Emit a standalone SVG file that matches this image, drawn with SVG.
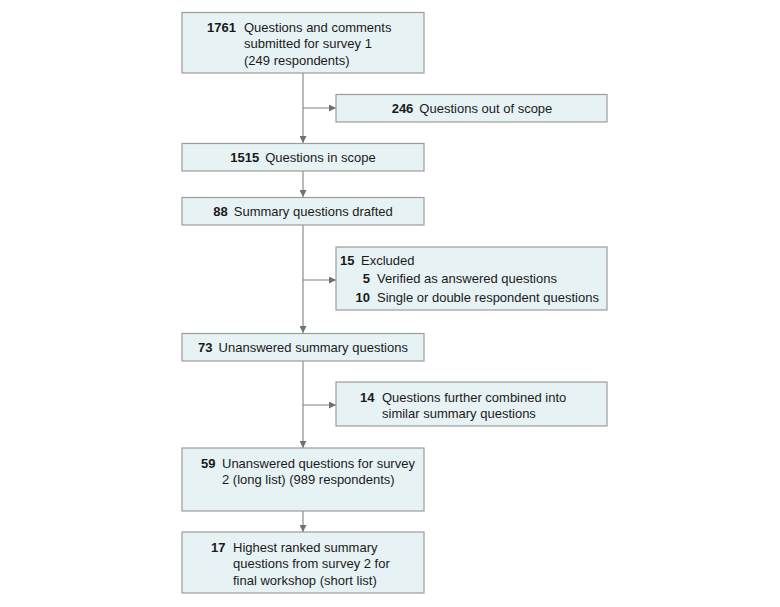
<svg xmlns="http://www.w3.org/2000/svg" width="780" height="607" viewBox="0 0 780 607">
<style>
.box{fill:#e7f2f4;stroke:#9c9c9c;stroke-width:1.2}
.t{font-family:"Liberation Sans",Arial,sans-serif;font-size:13px;fill:#1a1a1a}
.n{font-weight:bold}
.ln{stroke:#808080;stroke-width:1.1;fill:none}
</style>
<defs>
<marker id="ah" viewBox="0 0 10 10" refX="10" refY="5" markerWidth="7" markerHeight="7" markerUnits="userSpaceOnUse" orient="auto">
<path d="M0,0 L10,5 L0,10 Z" fill="#707070"/>
</marker>
</defs>
<rect width="780" height="607" fill="#ffffff"/>
<g id="connectors">
<line class="ln" x1="303" y1="73" x2="303" y2="143" marker-end="url(#ah)"/>
<line class="ln" x1="303" y1="108" x2="336" y2="108" marker-end="url(#ah)"/>
<line class="ln" x1="303" y1="171" x2="303" y2="197" marker-end="url(#ah)"/>
<line class="ln" x1="303" y1="225" x2="303" y2="333" marker-end="url(#ah)"/>
<line class="ln" x1="303" y1="280" x2="336" y2="280" marker-end="url(#ah)"/>
<line class="ln" x1="303" y1="361" x2="303" y2="448" marker-end="url(#ah)"/>
<line class="ln" x1="303" y1="405" x2="336" y2="405" marker-end="url(#ah)"/>
<line class="ln" x1="303" y1="511" x2="303" y2="532" marker-end="url(#ah)"/>
</g>
<g id="n1761">
<rect class="box" x="182" y="12.5" width="242" height="60.5"/>
<text class="t"><tspan class="n" x="207" y="31.5">1761</tspan><tspan x="244" y="31.5">Questions and comments</tspan><tspan x="244" y="48">submitted for survey 1</tspan><tspan x="244" y="64.5">(249 respondents)</tspan></text>
</g>
<g id="n246">
<rect class="box" x="336" y="94.5" width="271" height="27.5"/>
<text class="t" x="472" y="112.5" text-anchor="middle"><tspan class="n">246</tspan><tspan dx="6">Questions out of scope</tspan></text>
</g>
<g id="n1515">
<rect class="box" x="182" y="143.5" width="242" height="27.5"/>
<text class="t" x="303" y="161.5" text-anchor="middle"><tspan class="n">1515</tspan><tspan dx="6">Questions in scope</tspan></text>
</g>
<g id="n88">
<rect class="box" x="182" y="197.5" width="242" height="27.5"/>
<text class="t" x="303" y="215.5" text-anchor="middle"><tspan class="n">88</tspan><tspan dx="6">Summary questions drafted</tspan></text>
</g>
<g id="n15">
<rect class="box" x="336" y="247" width="271" height="63"/>
<text class="t"><tspan class="n" x="340" y="264.5">15</tspan><tspan x="361" y="264.5">Excluded</tspan></text>
<text class="t"><tspan class="n" x="370" y="283" text-anchor="end">5</tspan><tspan x="377" y="283">Verified as answered questions</tspan></text>
<text class="t"><tspan class="n" x="370" y="301.5" text-anchor="end">10</tspan><tspan x="377" y="301.5">Single or double respondent questions</tspan></text>
</g>
<g id="n73">
<rect class="box" x="182" y="333.5" width="242" height="27.5"/>
<text class="t" x="303" y="351.5" text-anchor="middle"><tspan class="n">73</tspan><tspan dx="6">Unanswered summary questions</tspan></text>
</g>
<g id="n14">
<rect class="box" x="336" y="382" width="271" height="44"/>
<text class="t"><tspan class="n" x="360" y="401.5">14</tspan><tspan x="382" y="401.5">Questions further combined into</tspan><tspan x="382" y="417.5">similar summary questions</tspan></text>
</g>
<g id="n59">
<rect class="box" x="182" y="448" width="242" height="63"/>
<text class="t"><tspan class="n" x="201" y="467.5">59</tspan><tspan x="222" y="467.5">Unanswered questions for survey</tspan><tspan x="222" y="484">2 (long list) (989 respondents)</tspan></text>
</g>
<g id="n17">
<rect class="box" x="182" y="532" width="242" height="61"/>
<text class="t"><tspan class="n" x="211" y="551.5">17</tspan><tspan x="233" y="551.5">Highest ranked summary</tspan><tspan x="233" y="568">questions from survey 2 for</tspan><tspan x="233" y="584.5">final workshop (short list)</tspan></text>
</g>
</svg>
